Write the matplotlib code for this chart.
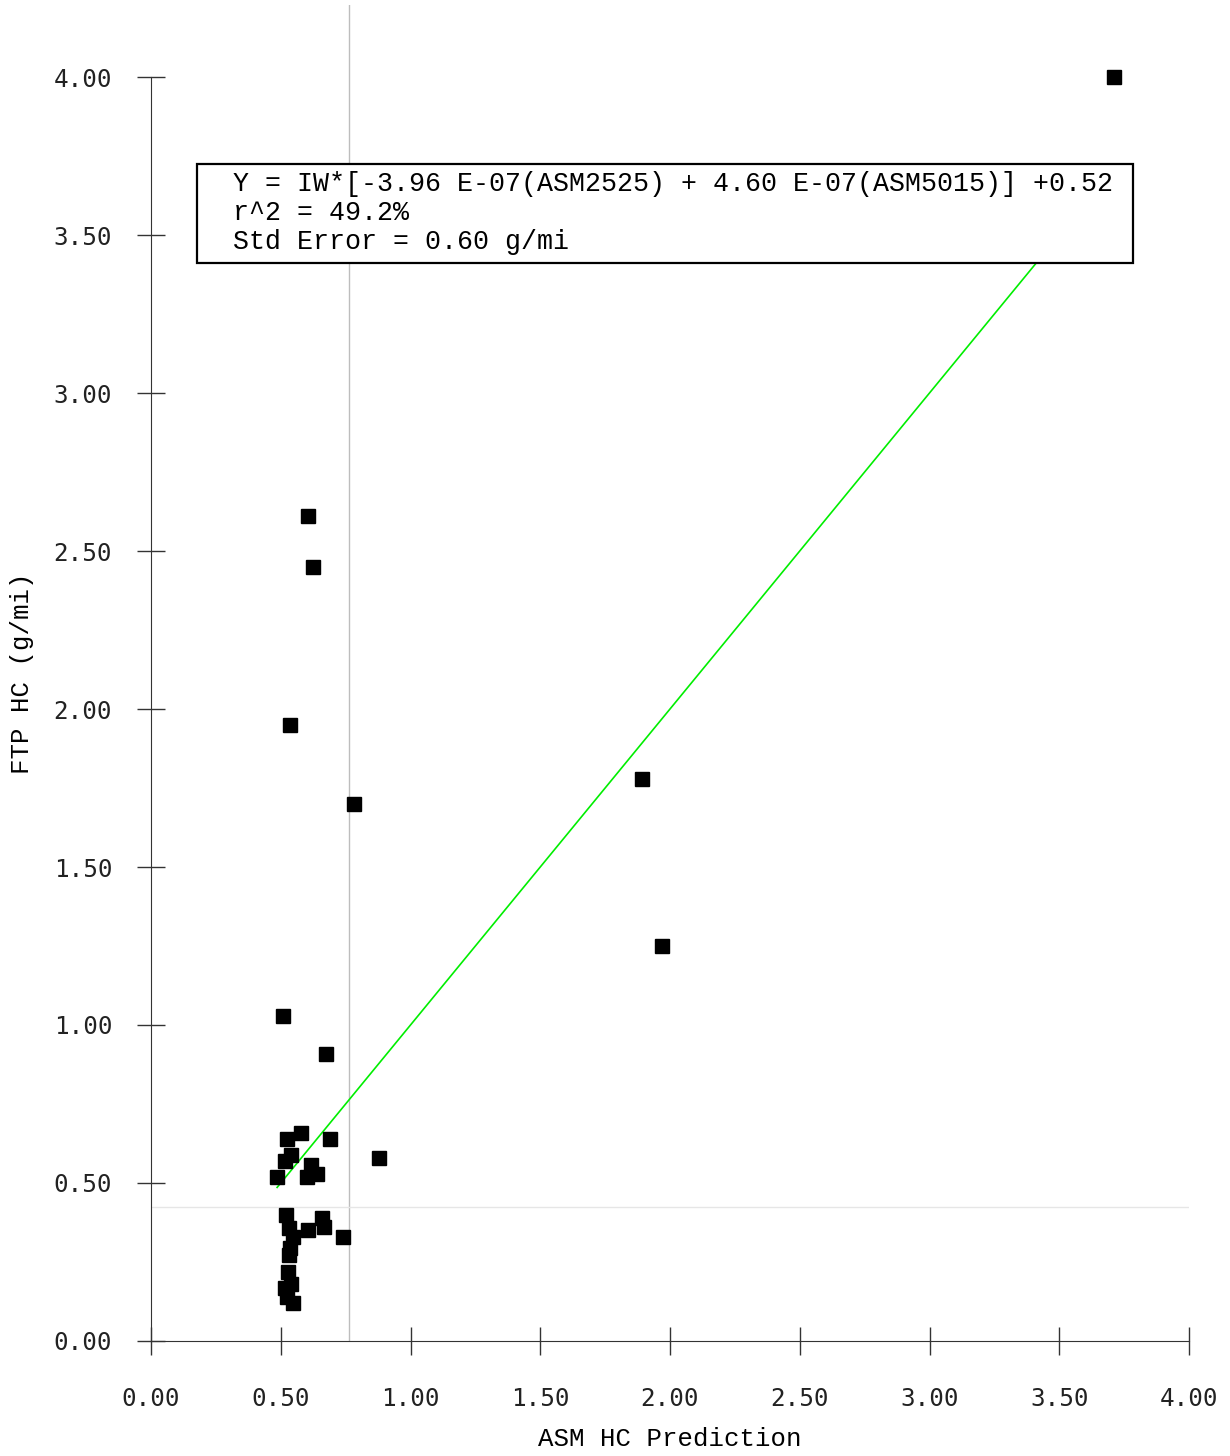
"""
FTP HC vs ASM HC prediction scatter with 1:1 reference line
"""
import matplotlib
matplotlib.use("Agg")
import matplotlib.pyplot as plt
import matplotlib.patches as patches
import numpy as np

# ASM HC prediction (g/mi) and measured FTP HC (g/mi)
asm_pred = [3.711, 0.605, 0.624, 0.536, 0.782, 1.892, 1.969, 0.509, 0.674,
            0.879, 0.690, 0.578, 0.524, 0.516, 0.540, 0.486, 0.617, 0.601,
            0.640, 0.740, 0.659, 0.667, 0.605, 0.520, 0.532, 0.547, 0.536,
            0.532, 0.528, 0.540, 0.516, 0.524, 0.547]
ftp_hc = [4.00, 2.61, 2.45, 1.95, 1.70, 1.78, 1.25, 1.03, 0.908,
          0.579, 0.639, 0.658, 0.639, 0.570, 0.589, 0.519, 0.557, 0.519,
          0.528, 0.329, 0.390, 0.361, 0.351, 0.399, 0.358, 0.329, 0.294,
          0.272, 0.218, 0.180, 0.168, 0.139, 0.120]

mean_pred = 0.763
mean_ftp = 0.424

fit_text = ("Y = IW*[-3.96 E-07(ASM2525) + 4.60 E-07(ASM5015)] +0.52\n"
            "r^2 = 49.2%\n"
            "Std Error = 0.60 g/mi")

ticks = [0.0, 0.5, 1.0, 1.5, 2.0, 2.5, 3.0, 3.5, 4.0]
tick_labels = ["%.2f" % t for t in ticks]

W, H = 1230, 1456
fig = plt.figure(figsize=(W / 100, H / 100), dpi=100)
ax = fig.add_axes([151 / W, (H - 1341) / H, 1038 / W, (1341 - 5) / H])

ax.set_xlim(0, 4)
ax.set_ylim(0, (1341 - 5) / 316)

# mean lines
ax.axvline(mean_pred, color="#bdbdbd", lw=1.0, zorder=1)
ax.axhline(mean_ftp, color="#e6e6e6", lw=1.0, zorder=1)

# 1:1 line across the data range
xs = np.array([min(asm_pred), max(asm_pred)])
ax.plot(xs, xs, color="#00ee00", lw=1.2, zorder=2)

ax.plot(asm_pred, ftp_hc, ls="none", marker="s", markersize=10,
        color="black", zorder=3, clip_on=False)

# axes styling
for side in ("top", "right"):
    ax.spines[side].set_visible(False)
ax.spines["left"].set_bounds(0, 4)
ax.spines["bottom"].set_bounds(0, 4)
ax.spines["left"].set_color("#333333")
ax.spines["bottom"].set_color("#333333")

ax.set_xticks(ticks)
ax.set_xticklabels(tick_labels)
ax.set_yticks(ticks)
ax.set_yticklabels(tick_labels)
ax.tick_params(direction="inout", length=20, width=1.0, color="#333333",
               labelsize=17.5, labelcolor="#222222")
ax.tick_params(axis="x", pad=23)
ax.tick_params(axis="y", pad=18)
for lab in ax.get_xticklabels() + ax.get_yticklabels():
    lab.set_family("DejaVu Sans Mono")

ax.set_xlabel("ASM HC Prediction", family="Liberation Mono", fontsize=18.5,
              labelpad=12)
ax.set_ylabel("FTP HC (g/mi)", family="Liberation Mono", fontsize=18.5,
              labelpad=14)

# regression summary box
box = patches.Rectangle((197 / W, 1 - 263 / H), (1133 - 197) / W,
                        (263 - 164) / H, transform=fig.transFigure,
                        facecolor="white", edgecolor="black", lw=1.6,
                        zorder=5)
fig.add_artist(box)
fig.text(233 / W, 1 - 171 / H, fit_text, family="Liberation Mono",
         fontsize=19.2, va="top", ha="left", linespacing=1.16, zorder=6)

fig.savefig("out.png", dpi=100, facecolor="white")
